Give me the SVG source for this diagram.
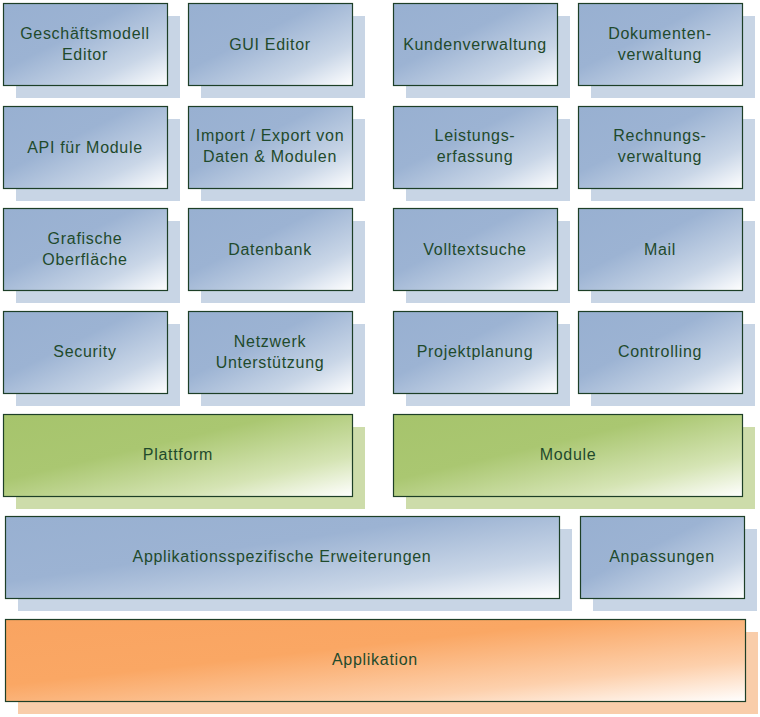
<svg xmlns="http://www.w3.org/2000/svg" width="760" height="717" viewBox="0 0 760 717">
<defs>
<linearGradient id="gb" x1="0" y1="0" x2="1" y2="1">
<stop offset="0" stop-color="#98b0d1"/>
<stop offset="0.4" stop-color="#9cb3d3"/>
<stop offset="0.75" stop-color="#c9d6e7"/>
<stop offset="1" stop-color="#ffffff"/>
</linearGradient>
<linearGradient id="gg" x1="0" y1="0" x2="1" y2="1">
<stop offset="0" stop-color="#a6c46c"/>
<stop offset="0.4" stop-color="#aac771"/>
<stop offset="0.75" stop-color="#d5e4b4"/>
<stop offset="1" stop-color="#ffffff"/>
</linearGradient>
<linearGradient id="go" x1="0" y1="0" x2="1" y2="1">
<stop offset="0" stop-color="#f9a461"/>
<stop offset="0.4" stop-color="#faa764"/>
<stop offset="0.75" stop-color="#fdd0ac"/>
<stop offset="1" stop-color="#ffffff"/>
</linearGradient>
</defs>
<style>
.sb{fill:#c8d5e5}
.sg{fill:#cddcaa}
.so{fill:#f9cdaa}
.b{fill:url(#gb);stroke:#1d3f27;stroke-width:1.2}
.g{fill:url(#gg);stroke:#1d3f27;stroke-width:1.2}
.o{fill:url(#go);stroke:#1d3f27;stroke-width:1.2}
text{font-family:"Liberation Sans",Arial,sans-serif;font-size:16px;letter-spacing:0.7px;fill:#1f4a2c;text-anchor:middle}
</style>
<rect width="760" height="717" fill="#ffffff"/>
<g id="n-geschaeftsmodell"><rect class="sb" x="16" y="16" width="164" height="82"/><rect class="b" x="3.5" y="3.5" width="164" height="82"/><text x="85" y="39">Geschäftsmodell</text><text x="85" y="60">Editor</text></g>
<g id="n-gui"><rect class="sb" x="201" y="16" width="164" height="82"/><rect class="b" x="188.5" y="3.5" width="164" height="82"/><text x="270" y="50">GUI Editor</text></g>
<g id="n-kunden"><rect class="sb" x="406" y="16" width="164" height="82"/><rect class="b" x="393.5" y="3.5" width="164" height="82"/><text x="475" y="50">Kundenverwaltung</text></g>
<g id="n-dokumente"><rect class="sb" x="591" y="16" width="164" height="82"/><rect class="b" x="578.5" y="3.5" width="164" height="82"/><text x="660" y="39">Dokumenten-</text><text x="660" y="60">verwaltung</text></g>

<g id="n-api"><rect class="sb" x="16" y="119" width="164" height="82"/><rect class="b" x="3.5" y="106.5" width="164" height="82"/><text x="85" y="153">API für Module</text></g>
<g id="n-import"><rect class="sb" x="201" y="119" width="164" height="82"/><rect class="b" x="188.5" y="106.5" width="164" height="82"/><text x="270" y="141">Import / Export von</text><text x="270" y="162">Daten &amp; Modulen</text></g>
<g id="n-leistung"><rect class="sb" x="406" y="119" width="164" height="82"/><rect class="b" x="393.5" y="106.5" width="164" height="82"/><text x="475" y="141">Leistungs-</text><text x="475" y="162">erfassung</text></g>
<g id="n-rechnung"><rect class="sb" x="591" y="119" width="164" height="82"/><rect class="b" x="578.5" y="106.5" width="164" height="82"/><text x="660" y="141">Rechnungs-</text><text x="660" y="162">verwaltung</text></g>

<g id="n-grafisch"><rect class="sb" x="16" y="221" width="164" height="82"/><rect class="b" x="3.5" y="208.5" width="164" height="82"/><text x="85" y="244">Grafische</text><text x="85" y="265">Oberfläche</text></g>
<g id="n-datenbank"><rect class="sb" x="201" y="221" width="164" height="82"/><rect class="b" x="188.5" y="208.5" width="164" height="82"/><text x="270" y="255">Datenbank</text></g>
<g id="n-volltext"><rect class="sb" x="406" y="221" width="164" height="82"/><rect class="b" x="393.5" y="208.5" width="164" height="82"/><text x="475" y="255">Volltextsuche</text></g>
<g id="n-mail"><rect class="sb" x="591" y="221" width="164" height="82"/><rect class="b" x="578.5" y="208.5" width="164" height="82"/><text x="660" y="255">Mail</text></g>

<g id="n-security"><rect class="sb" x="16" y="324" width="164" height="82"/><rect class="b" x="3.5" y="311.5" width="164" height="82"/><text x="85" y="357">Security</text></g>
<g id="n-netzwerk"><rect class="sb" x="201" y="324" width="164" height="82"/><rect class="b" x="188.5" y="311.5" width="164" height="82"/><text x="270" y="347">Netzwerk</text><text x="270" y="368">Unterstützung</text></g>
<g id="n-projekt"><rect class="sb" x="406" y="324" width="164" height="82"/><rect class="b" x="393.5" y="311.5" width="164" height="82"/><text x="475" y="357">Projektplanung</text></g>
<g id="n-controlling"><rect class="sb" x="591" y="324" width="164" height="82"/><rect class="b" x="578.5" y="311.5" width="164" height="82"/><text x="660" y="357">Controlling</text></g>

<g id="n-plattform"><rect class="sg" x="16" y="427" width="349" height="82"/><rect class="g" x="3.5" y="414.5" width="349" height="82"/><text x="178" y="460">Plattform</text></g>
<g id="n-module"><rect class="sg" x="406" y="427" width="349" height="82"/><rect class="g" x="393.5" y="414.5" width="349" height="82"/><text x="568" y="460">Module</text></g>

<g id="n-erweiterungen"><rect class="sb" x="18" y="529" width="554" height="82"/><rect class="b" x="5.5" y="516.5" width="554" height="82"/><text x="282" y="562">Applikationsspezifische Erweiterungen</text></g>
<g id="n-anpassungen"><rect class="sb" x="593" y="529" width="164" height="82"/><rect class="b" x="580.5" y="516.5" width="164" height="82"/><text x="662" y="562">Anpassungen</text></g>

<g id="n-applikation"><rect class="so" x="18" y="632" width="740" height="82"/><rect class="o" x="5.5" y="619.5" width="740" height="82"/><text x="375" y="665">Applikation</text></g>
<g id="connectors"></g>
</svg>
